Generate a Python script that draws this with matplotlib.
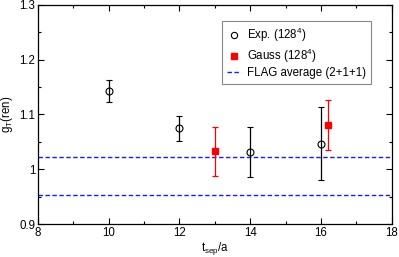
import matplotlib
matplotlib.use("Agg")
import matplotlib.pyplot as plt
from matplotlib.lines import Line2D

plt.rcParams["font.family"] = ["Liberation Sans", "DejaVu Sans"]
plt.rcParams["mathtext.fontset"] = "custom"
plt.rcParams["mathtext.rm"] = "Liberation Sans"

# Exp. (128^4) points
exp_t = [10, 12, 14, 16]
exp_g = [1.143, 1.075, 1.032, 1.047]
exp_err = [0.020, 0.023, 0.046, 0.066]

# Gauss (128^4) points
gauss_t = [13, 16.2]
gauss_g = [1.033, 1.081]
gauss_err = [0.045, 0.045]

# FLAG average (2+1+1) band edges
flag_lines = [1.022, 0.954]

fs = 8.3
blue = "#1a1aff"
fig = plt.figure(figsize=(3.99, 2.57), dpi=100)
ax = fig.add_axes([0.095, 0.128, 0.887, 0.853])

for y in flag_lines:
    ax.axhline(y, color=blue, linestyle=(0, (3.2, 1.8)), linewidth=1.0)

ax.errorbar(exp_t, exp_g, yerr=exp_err, fmt="o", mfc="none", mec="black",
            ecolor="black", color="black", markersize=5, capsize=2.2,
            elinewidth=0.9, capthick=0.9, markeredgewidth=0.8)
ax.errorbar(gauss_t, gauss_g, yerr=gauss_err, fmt="s", mfc="red", mec="red",
            ecolor="red", color="red", markersize=4.2, capsize=2.2,
            elinewidth=0.9, capthick=0.9)

ax.set_xlim(8, 18)
ax.set_ylim(0.9, 1.3)
ax.set_xticks([8, 10, 12, 14, 16, 18])
ax.set_xticks(range(9, 18, 2), minor=True)
ax.set_yticks([0.9, 1.0, 1.1, 1.2, 1.3])
ax.set_yticklabels(["0.9", "1", "1.1", "1.2", "1.3"])
ax.set_yticks([0.95, 1.05, 1.15, 1.25], minor=True)
ax.tick_params(which="both", direction="in", top=True, right=True,
               labelsize=fs, width=0.8)
ax.tick_params(which="major", length=4, pad=2)
ax.tick_params(which="minor", length=2)
for s in ax.spines.values():
    s.set_linewidth(0.9)

ax.set_xlabel("t$_\\mathrm{sep}$/a", fontsize=fs, labelpad=1)
ax.set_ylabel("g$_\\mathrm{T}$(ren)", fontsize=fs, labelpad=3)

handles = [
    Line2D([], [], marker="o", linestyle="none", mfc="none", mec="black",
           markersize=4.5, markeredgewidth=0.8),
    Line2D([], [], marker="s", linestyle="none", mfc="red", mec="red",
           markersize=4),
    Line2D([], [], color=blue, linestyle=(0, (3.2, 1.8)), linewidth=1.0),
]
labels = ["Exp. (128$^4$)", "Gauss (128$^4$)", "FLAG average (2+1+1)"]
leg = ax.legend(handles, labels, loc="upper left", bbox_to_anchor=(0.52, 0.927),
                borderaxespad=0, fontsize=fs, fancybox=False, edgecolor="#888888",
                handlelength=1.2, handletextpad=0.55, borderpad=0.45,
                labelspacing=0.2, framealpha=1)
leg.get_frame().set_linewidth(0.8)

fig.savefig("out.png", dpi=100)
